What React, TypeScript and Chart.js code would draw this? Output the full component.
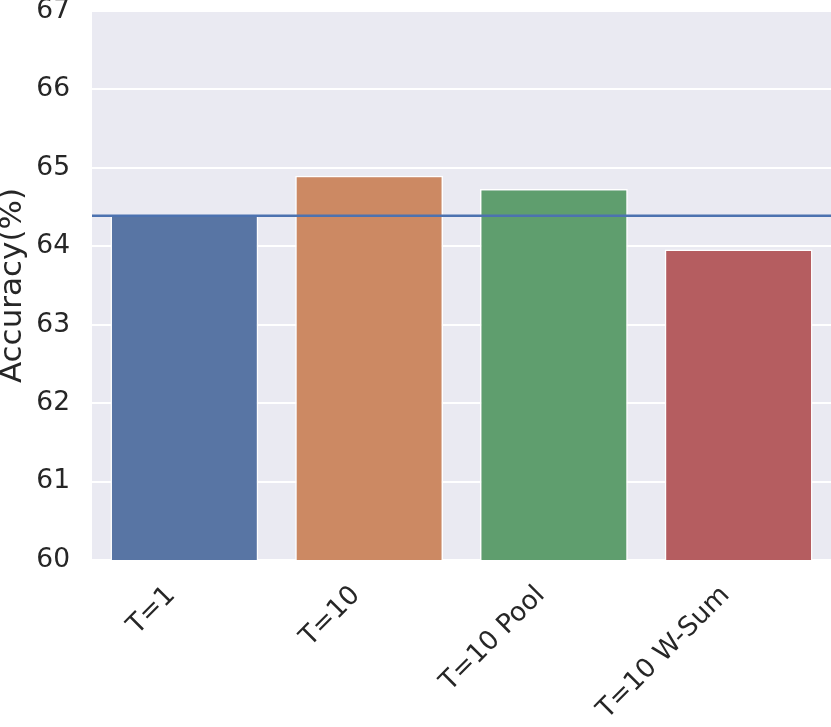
import React, { useEffect, useRef } from "react";
import { Chart, registerables } from "chart.js";

Chart.register(...registerables);

const categories = ["T=1", "T=10", "T=10 Pool", "T=10 W-Sum"];
const accuracy = [64.4, 64.9, 64.73, 63.96];
const baseline = 64.39;
const yMin = 60;
const yMax = 67;
const barColors = ["#5875A4", "#CC8963", "#5F9E6E", "#B55D60"];
const lineColor = "#4C72B0";
const FONT = "'DejaVu Sans', sans-serif";
const TEXT = "#262626";
const FS = 26.5;
const TITLE_FS = 31;

const bgPlugin = {
  id: "bgPlugin",
  beforeDraw(chart: any) {
    const { ctx, chartArea } = chart;
    ctx.save();
    ctx.fillStyle = "#EAEAF2";
    ctx.fillRect(chartArea.left, chartArea.top, chartArea.right - chartArea.left, chartArea.bottom - chartArea.top);
    ctx.restore();
  },
};

const baselinePlugin = {
  id: "baselinePlugin",
  afterDatasetsDraw(chart: any) {
    const { ctx, chartArea, scales } = chart;
    const y = scales.y.getPixelForValue(baseline);
    ctx.save();
    ctx.strokeStyle = lineColor;
    ctx.lineWidth = 2.6;
    ctx.beginPath();
    ctx.moveTo(chartArea.left, y);
    ctx.lineTo(chartArea.right, y);
    ctx.stroke();
    ctx.restore();
  },
};

export default function App() {
  const ref = useRef<HTMLCanvasElement>(null);
  useEffect(() => {
    const chart = new Chart(ref.current!, {
      type: "bar",
      data: {
        labels: categories,
        datasets: [
          {
            data: accuracy,
            backgroundColor: barColors,
            borderColor: "#ffffff",
            borderWidth: 1.5,
            barPercentage: 0.8,
            categoryPercentage: 1,
          },
        ],
      },
      options: {
        responsive: false,
        animation: false,
        devicePixelRatio: 1,
        layout: { padding: { top: 11, right: 0, left: 0, bottom: 0 } },
        plugins: { legend: { display: false }, tooltip: { enabled: false } },
        scales: {
          x: {
            grid: { display: false },
            border: { display: false },
            ticks: {
              maxRotation: 45,
              minRotation: 45,
              autoSkip: false,
              padding: 12,
              labelOffset: -13,
              color: TEXT,
              font: { family: FONT, size: FS },
            },
            afterFit(scale: any) {
              scale.height = 167;
              scale.paddingLeft = 0;
              scale.paddingRight = 0;
            },
          },
          y: {
            min: yMin,
            max: yMax,
            border: { display: false },
            grid: { color: "#ffffff", lineWidth: 2, drawTicks: false },
            ticks: {
              stepSize: 1,
              padding: 22,
              color: TEXT,
              font: { family: FONT, size: FS },
            },
            title: {
              display: true,
              text: "Accuracy(%)",
              color: TEXT,
              font: { family: FONT, size: TITLE_FS, lineHeight: 1 },
              padding: { top: -3, bottom: 0 },
            },
            afterFit(scale: any) {
              scale.width = 92;
              scale.paddingTop = 0;
              scale.paddingBottom = 0;
            },
          },
        },
      },
      plugins: [bgPlugin, baselinePlugin],
    });
    return () => chart.destroy();
  }, []);
  return (
    <div style={{ position: "absolute", left: 0, top: 0, width: 831, height: 727, background: "#fff" }}>
      <canvas ref={ref} width={831} height={727} style={{ display: "block" }} />
    </div>
  );
}
